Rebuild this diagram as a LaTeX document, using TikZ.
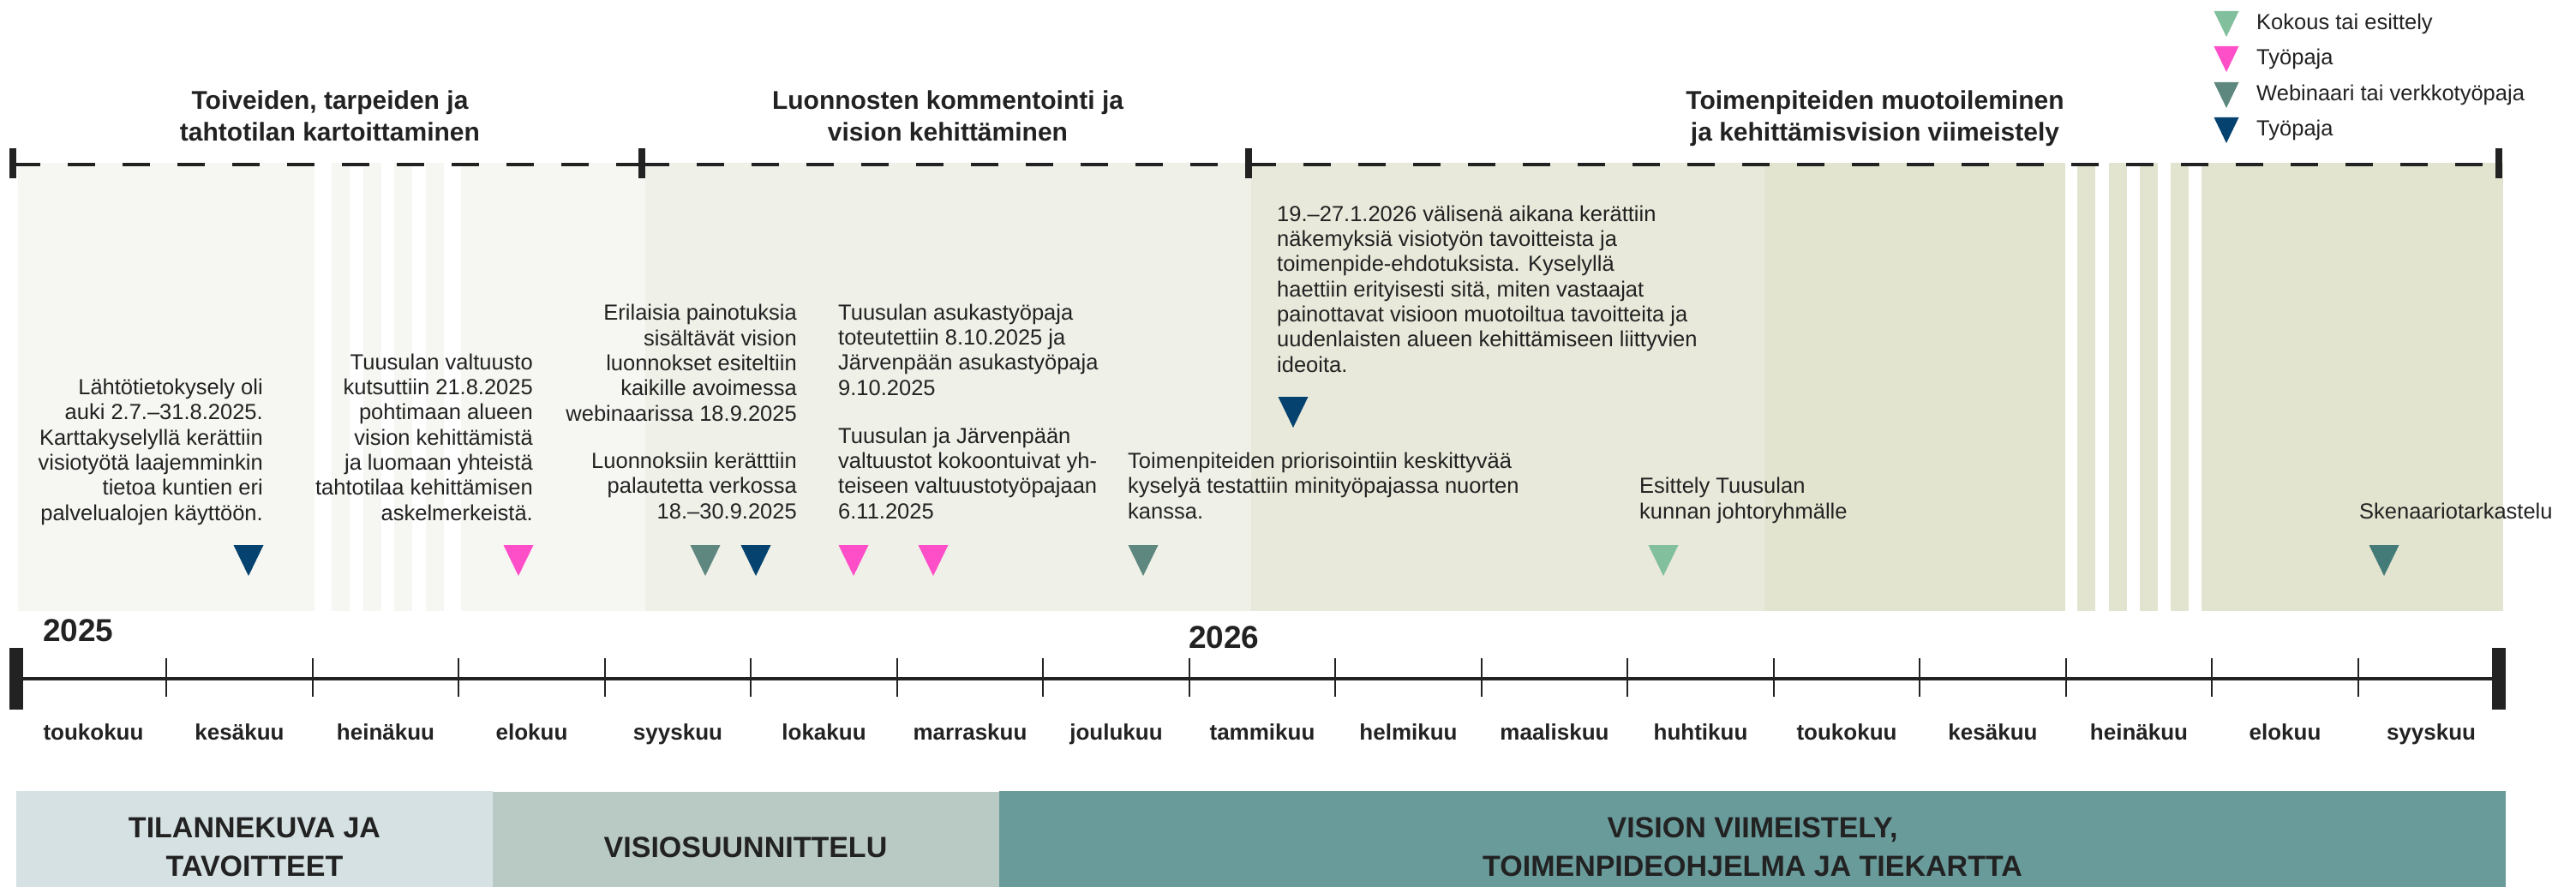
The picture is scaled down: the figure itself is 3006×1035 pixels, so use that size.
\documentclass[tikz,border=0pt]{standalone}
\usepackage{fontspec}
\setmainfont{Liberation Sans}
\usepackage{xcolor}
\usetikzlibrary{positioning}

\definecolor{txtgrey}{HTML}{222222}
\definecolor{bandA}{HTML}{F6F7F2}
\definecolor{bandB}{HTML}{EFF0E8}
\definecolor{bandC}{HTML}{E8E9DA}
\definecolor{bandD}{HTML}{E2E4CF}
\definecolor{mint}{HTML}{82BF9D}
\definecolor{pinkws}{HTML}{FF4FC8}
\definecolor{webteal}{HTML}{5E877F}
\definecolor{navyws}{HTML}{05426F}
\definecolor{darkteal}{HTML}{447B78}
\definecolor{boxA}{HTML}{D6E1E3}
\definecolor{boxB}{HTML}{B9CAC5}
\definecolor{boxC}{HTML}{6A9B9B}

\tikzset{
	note/.style={font=\fontsize{25.5}{29.3}\selectfont, text=txtgrey, inner sep=0pt},
	phasetitle/.style={font=\bfseries\fontsize{30}{37}\selectfont, text=txtgrey, inner sep=0pt, align=center, anchor=base},
	monthlbl/.style={font=\bfseries\fontsize{26}{30}\selectfont, text=txtgrey, inner sep=0pt, anchor=base},
	yearlbl/.style={font=\bfseries\fontsize{37}{40}\selectfont, text=txtgrey, inner sep=0pt, anchor=base west},
	boxlbl/.style={font=\bfseries\fontsize{34}{45}\selectfont, text=txtgrey, inner sep=0pt, align=center, anchor=base},
	dashline/.style={line width=4pt, txtgrey, dash pattern=on 32pt off 32pt},
	endbar/.style={line width=8pt, txtgrey}
}

% drop marker: centre x, top y, colour, width, height
\newcommand{\dropmark}[5]{\fill[#3] (#1,#2) ++(-#4/2,0) -- ++(#4,0) -- ++(-#4/2,#5) -- cycle;}

\begin{document}
\begin{tikzpicture}[x=1pt,y=-1pt]
	\useasboundingbox (0,0) rectangle (3006,1035);

	% band behind the events
	\fill[bandA] (21,190) rectangle (367,713);
	\foreach \s in {387,423.5,460,497}
		\fill[bandA] (\s,190) rectangle ++(21,523);
	\fill[bandA] (538,190) rectangle (753,713);
	\fill[bandB] (753,190) rectangle (1460,713);
	\fill[bandC] (1460,190) rectangle (2059,713);
	\fill[bandD] (2059,190) rectangle (2410,713);
	\foreach \s in {2424,2461,2497,2533}
		\fill[bandD] (\s,190) rectangle ++(21,523);
	\fill[bandD] (2569,190) rectangle (2921,713);

	% phase line
	\coordinate (d0) at (15,192);
	\coordinate (d1) at (749,192);
	\coordinate (d2) at (1457,192);
	\coordinate (d3) at (2916,192);
	\draw[dashline] (d0) -- (d1);
	\draw[dashline] (d1) -- (d2);
	\draw[dashline] (d2) -- (d3);
	\foreach \d in {d0,d1,d2,d3}
		\draw[endbar] ([yshift=19pt]\d) -- ([yshift=-16pt]\d);

	\node[phasetitle] (ph1) at (385,165) {Toiveiden, tarpeiden ja\\tahtotilan kartoittaminen};
	\node[phasetitle] (ph2) at (1106,165) {Luonnosten kommentointi ja\\vision kehittäminen};
	\node[phasetitle] (ph3) at (2188,165) {Toimenpiteiden muotoileminen\\ja kehittämisvision viimeistely};

	% legend
	\dropmark{2598}{13}{mint}{29}{30}
	\dropmark{2598}{54}{pinkws}{29}{30}
	\dropmark{2598}{96}{webteal}{29}{30}
	\dropmark{2598}{137}{navyws}{29}{30}
	\node[note, anchor=base west] (lg1) at (2633,35) {Kokous tai esittely};
	\node[note, anchor=base west] (lg2) at (2633,76) {Työpaja};
	\node[note, anchor=base west] (lg3) at (2633,118) {Webinaari tai verkkotyöpaja};
	\node[note, anchor=base west] (lg4) at (2633,159) {Työpaja};

	% events (anchored at the baseline of the last line)
	\node[note, align=right, anchor=base east] (ev1) at (307,607) {Lähtötietokysely oli\\auki 2.7.–31.8.2025.\\Karttakyselyllä kerättiin\\visiotyötä laajemminkin\\tietoa kuntien eri\\palvelualojen käyttöön.};
	\node[note, align=right, anchor=base east] (ev2) at (622,607) {Tuusulan valtuusto\\kutsuttiin 21.8.2025\\pohtimaan alueen\\vision kehittämistä\\ja luomaan yhteistä\\tahtotilaa kehittämisen\\askelmerkeistä.};
	\node[note, align=right, anchor=base east] (ev3) at (930,491) {Erilaisia painotuksia\\sisältävät vision\\luonnokset esiteltiin\\kaikille avoimessa\\webinaarissa 18.9.2025};
	\node[note, align=right, anchor=base east] (ev4) at (930,605) {Luonnoksiin kerätttiin\\palautetta verkossa\\18.–30.9.2025};
	\node[note, align=left, anchor=base west] (ev5) at (978,461) {Tuusulan asukastyöpaja\\toteutettiin 8.10.2025 ja\\Järvenpään asukastyöpaja\\9.10.2025};
	\node[note, align=left, anchor=base west] (ev6) at (978,605) {Tuusulan ja Järvenpään\\valtuustot kokoontuivat yh-\\teiseen valtuustotyöpajaan\\6.11.2025};
	\node[note, align=left, anchor=base west] (ev7) at (1316,605) {Toimenpiteiden priorisointiin keskittyvää\\kyselyä testattiin minityöpajassa nuorten\\kanssa.};
	\node[note, align=left, anchor=base west] (ev8) at (1490,434) {19.–27.1.2026 välisenä aikana kerättiin\\näkemyksiä visiotyön tavoitteista ja\\toimenpide-ehdotuksista. Kyselyllä\\haettiin erityisesti sitä, miten vastaajat\\painottavat visioon muotoiltua tavoitteita ja\\uudenlaisten alueen kehittämiseen liittyvien\\ideoita.};
	\node[note, align=left, anchor=base west] (ev9) at (1913,605) {Esittely Tuusulan\\kunnan johtoryhmälle};
	\node[note, anchor=base west] (ev10) at (2753,605) {Skenaariotarkastelu};

	\dropmark{290}{636}{navyws}{35}{36}
	\dropmark{605}{636}{pinkws}{35}{36}
	\dropmark{823}{636}{webteal}{35}{36}
	\dropmark{882}{636}{navyws}{35}{36}
	\dropmark{996}{636}{pinkws}{35}{36}
	\dropmark{1089}{636}{pinkws}{35}{36}
	\dropmark{1334}{636}{webteal}{35}{36}
	\dropmark{1509}{463}{navyws}{35}{36}
	\dropmark{1941}{636}{mint}{35}{36}
	\dropmark{2782}{636}{darkteal}{35}{36}

	% time axis
	\coordinate (ax0) at (19,792);
	\coordinate (ax1) at (2916,792);
	\draw[line width=4pt, txtgrey] (ax0) -- (ax1);
	\draw[line width=16pt, txtgrey] ([yshift=-36pt]ax0) -- ([yshift=36pt]ax0);
	\draw[line width=16pt, txtgrey] ([yshift=-36pt]ax1) -- ([yshift=36pt]ax1);
	\foreach \k in {1,...,16}
		\draw[line width=2pt, txtgrey] ({23.5+170.5*\k},768) -- ({23.5+170.5*\k},813);

	\node[yearlbl] (y25) at (50,748) {2025};
	\node[yearlbl] (y26) at (1387,756) {2026};

	\foreach \m [count=\k from 0] in {toukokuu,kesäkuu,heinäkuu,elokuu,syyskuu,lokakuu,marraskuu,joulukuu,tammikuu,helmikuu,maaliskuu,huhtikuu,toukokuu,kesäkuu,heinäkuu,elokuu,syyskuu}
		\node[monthlbl] (m\k) at ({109+170.5*\k},863) {\m};

	% project stages
	\fill[boxA] (19,923) rectangle (575,1035);
	\fill[boxB] (575,924) rectangle (1166,1035);
	\fill[boxC] (1166,923) rectangle (2924,1035);
	\node[boxlbl] (st1) at (297,1022) {TILANNEKUVA JA\\TAVOITTEET};
	\node[boxlbl] (st2) at (870,1000) {VISIOSUUNNITTELU};
	\node[boxlbl] (st3) at (2045,1022) {VISION VIIMEISTELY,\\TOIMENPIDEOHJELMA JA TIEKARTTA};
\end{tikzpicture}
\end{document}
